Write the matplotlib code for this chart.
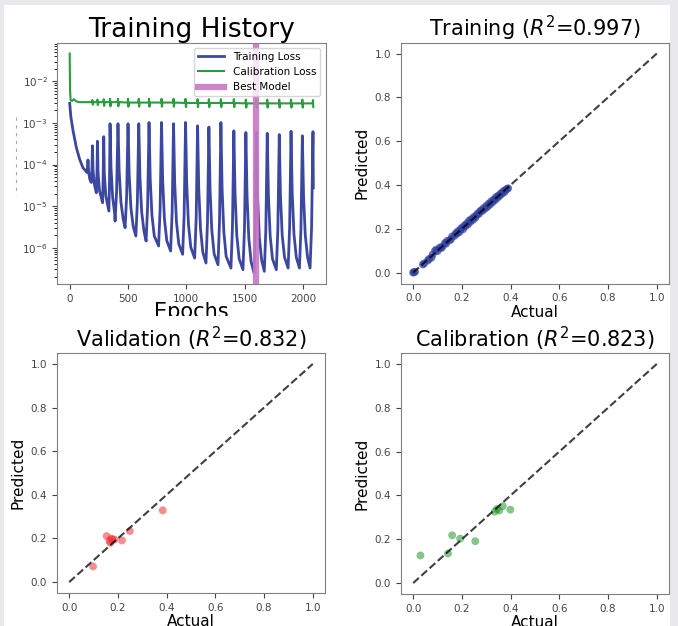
import numpy as np
import matplotlib.pyplot as plt
from matplotlib.patches import Rectangle
from matplotlib.lines import Line2D
from matplotlib.transforms import Bbox, TransformedBbox

# loss history (log10 of the loss); each row is one warm-restart cycle
train_epochs = [0, 10, 29, 57, 86, 114, 143, 147,
                153, 157, 162, 172, 185,
                191, 195, 200, 210, 228,
                234, 238, 243, 255, 282,
                287, 292, 297, 310, 336,
                341, 346, 354, 368, 385, 389,
                402, 414, 424, 439, 459, 475,
                488, 500, 510, 525, 545, 567,
                580, 592, 602, 617, 637, 655,
                668, 680, 690, 705, 725, 762,
                775, 787, 797, 812, 832, 865,
                878, 890, 900, 915, 935, 968,
                981, 993, 1003, 1018, 1038, 1071,
                1084, 1096, 1106, 1121, 1141, 1168,
                1181, 1193, 1203, 1218, 1238, 1271,
                1284, 1296, 1306, 1321, 1341, 1382,
                1395, 1407, 1417, 1432, 1452, 1485,
                1498, 1510, 1520, 1535, 1555, 1580,
                1590, 1600, 1610, 1625, 1645, 1668,
                1681, 1693, 1703, 1718, 1738, 1771,
                1784, 1796, 1806, 1821, 1841, 1872,
                1885, 1897, 1907, 1922, 1942, 1969,
                1982, 1994, 2004, 2019, 2039, 2060,
                2073, 2085, 2088]
train_log_loss = [-2.53, -2.85, -3.19, -3.59, -3.88, -4.08, -4.17, -4.19,
                  -4.07, -3.89, -4.16, -4.35, -4.43,
                  -4.08, -3.55, -4.12, -4.45, -4.68,
                  -4.18, -3.44, -4.18, -4.62, -4.92,
                  -4.28, -3.33, -4.23, -4.76, -5.12,
                  -4.49, -3.02, -4.07, -4.78, -5.17, -5.36,
                  -4.66, -3.02, -4.15, -4.90, -5.32, -5.52,
                  -4.77, -3.02, -4.24, -5.05, -5.50, -5.72,
                  -4.91, -3.02, -4.29, -5.14, -5.61, -5.84,
                  -4.99, -2.99, -4.33, -5.22, -5.72, -5.96,
                  -5.07, -2.99, -4.38, -5.31, -5.83, -6.08,
                  -5.16, -3.02, -4.43, -5.38, -5.91, -6.16,
                  -5.21, -2.99, -4.46, -5.44, -5.99, -6.25,
                  -5.30, -3.07, -4.56, -5.55, -6.11, -6.37,
                  -5.39, -3.10, -4.59, -5.58, -6.15, -6.41,
                  -5.38, -2.99, -4.57, -5.62, -6.21, -6.49,
                  -5.50, -3.19, -4.69, -5.70, -6.26, -6.53,
                  -5.54, -3.23, -4.75, -5.77, -6.34, -6.61,
                  -5.60, -3.23, -4.73, -5.74, -6.30, -6.57,
                  -5.57, -3.25, -4.73, -5.71, -6.27, -6.53,
                  -5.55, -3.28, -4.72, -5.69, -6.23, -6.49,
                  -5.50, -3.20, -4.68, -5.67, -6.23, -6.49,
                  -5.54, -3.31, -4.74, -5.70, -6.24, -6.49,
                  -5.51, -3.21, -4.56]

cal_epochs = [0, 3, 5, 8, 20, 35, 55, 80, 150,
              192, 195, 198, 203,
              235, 238, 241, 246,
              289, 292, 295, 300,
              343, 346, 349, 354,
              411, 414, 417, 422,
              497, 500, 503, 508,
              589, 592, 595, 600,
              677, 680, 683, 688,
              784, 787, 790, 795,
              887, 890, 893, 898,
              990, 993, 996, 1001,
              1093, 1096, 1099, 1104,
              1190, 1193, 1196, 1201,
              1293, 1296, 1299, 1304,
              1404, 1407, 1410, 1415,
              1507, 1510, 1513, 1518,
              1597, 1600, 1603, 1608,
              1690, 1693, 1696, 1701,
              1793, 1796, 1799, 1804,
              1894, 1897, 1900, 1905,
              1991, 1994, 1997, 2002,
              2082, 2085, 2088]
cal_log_loss = [-1.33, -2.20, -2.30, -2.46, -2.47, -2.43, -2.48, -2.50, -2.50,
                -2.50, -2.45, -2.56, -2.50,
                -2.50, -2.44, -2.57, -2.50,
                -2.50, -2.43, -2.59, -2.50,
                -2.50, -2.42, -2.60, -2.50,
                -2.50, -2.42, -2.60, -2.50,
                -2.51, -2.42, -2.61, -2.51,
                -2.51, -2.42, -2.61, -2.51,
                -2.51, -2.42, -2.61, -2.51,
                -2.51, -2.42, -2.61, -2.51,
                -2.51, -2.42, -2.61, -2.51,
                -2.52, -2.42, -2.62, -2.52,
                -2.52, -2.43, -2.62, -2.52,
                -2.52, -2.43, -2.62, -2.52,
                -2.52, -2.43, -2.62, -2.52,
                -2.52, -2.43, -2.62, -2.52,
                -2.53, -2.44, -2.63, -2.53,
                -2.53, -2.44, -2.63, -2.53,
                -2.53, -2.44, -2.63, -2.53,
                -2.53, -2.44, -2.63, -2.53,
                -2.53, -2.44, -2.63, -2.53,
                -2.53, -2.44, -2.63, -2.53,
                -2.53, -2.45, -2.62]
best_epoch = 1597

# predicted vs actual
train_actual = [0.0, 0.003, 0.008, 0.04, 0.045, 0.06, 0.065, 0.075, 0.08, 0.09,
                0.095, 0.10, 0.11, 0.115, 0.12, 0.13, 0.135, 0.14, 0.15, 0.155,
                0.16, 0.17, 0.175, 0.18, 0.185, 0.19, 0.195, 0.20, 0.205, 0.21,
                0.215, 0.22, 0.225, 0.23, 0.235, 0.24, 0.245, 0.25, 0.255, 0.26,
                0.265, 0.27, 0.275, 0.28, 0.285, 0.29, 0.295, 0.30, 0.305, 0.31,
                0.315, 0.32, 0.325, 0.33, 0.335, 0.34, 0.345, 0.35, 0.355, 0.36,
                0.365, 0.37, 0.375, 0.38, 0.385, 0.39]
train_pred = [0.0, 0.002, 0.004, 0.037, 0.042, 0.055, 0.062, 0.068, 0.083, 0.10,
              0.105, 0.098, 0.115, 0.112, 0.118, 0.135, 0.132, 0.145, 0.148, 0.152,
              0.165, 0.168, 0.18, 0.178, 0.19, 0.185, 0.198, 0.205, 0.198, 0.215,
              0.212, 0.225, 0.22, 0.238, 0.232, 0.245, 0.24, 0.255, 0.25, 0.262,
              0.27, 0.268, 0.28, 0.285, 0.282, 0.295, 0.292, 0.305, 0.30, 0.315,
              0.31, 0.325, 0.32, 0.333, 0.33, 0.345, 0.34, 0.352, 0.35, 0.362,
              0.36, 0.372, 0.368, 0.378, 0.382, 0.385]

val_actual = [0.098, 0.154, 0.165, 0.169, 0.173, 0.178, 0.186, 0.217, 0.249, 0.384]
val_pred = [0.072, 0.211, 0.19, 0.18, 0.2, 0.195, 0.195, 0.191, 0.234, 0.329]

cal_actual = [0.030, 0.143, 0.160, 0.193, 0.255, 0.335, 0.344, 0.353, 0.368, 0.399]
cal_pred = [0.126, 0.135, 0.218, 0.203, 0.191, 0.326, 0.338, 0.331, 0.351, 0.335]

r2_train, r2_val, r2_cal = 0.997, 0.832, 0.823

tick_color = '#444444'
spine_color = '#808080'

fig = plt.figure(figsize=(6.78, 6.26), dpi=100)
fig.patch.set_facecolor('#e9e9ed')
fig.patches.append(Rectangle((4 / 678, 0), 666 / 678, 621 / 626, transform=fig.transFigure,
                             facecolor='white', edgecolor='none', zorder=-1))


def style_axes(ax):
    for s in ax.spines.values():
        s.set_color(spine_color)
    ax.tick_params(colors=tick_color, labelsize=7.5, labelcolor=tick_color)


# training history
ax1 = fig.add_axes([0.0848, 0.5463, 0.3953, 0.3858])
ax1.plot(train_epochs, np.power(10.0, train_log_loss), color='#3c48a0', lw=2.0,
         label='Training Loss')
ax1.plot(cal_epochs, np.power(10.0, cal_log_loss), color='#2a9c3e', lw=1.5,
         label='Calibration Loss')
ax1.axvline(best_epoch, color='#c878c4', lw=4.5, alpha=0.9, label='Best Model')
ax1.set_yscale('log')
ax1.set_title('Training History', fontsize=19, pad=4)
# the x label runs under the panel below, only its upper part shows
xl = ax1.set_xlabel('Epochs', fontsize=15, labelpad=-1)
xl.set_clip_box(TransformedBbox(Bbox([[0, 0.496], [1, 1]]), fig.transFigure))
xl.set_clip_on(True)
ax1.legend(loc='upper right', fontsize=7.5, framealpha=0.8, handlelength=2.5)
style_axes(ax1)

# stray dashed mark on the far left
fig.lines.append(Line2D([16 / 678, 16 / 678], [1 - 117 / 626, 1 - 195 / 626],
                        transform=fig.transFigure, color='#aaaaaa', lw=0.8,
                        linestyle=(0, (3, 4))))


def scatter_panel(rect, actual, pred, color, alpha, title):
    ax = fig.add_axes(rect)
    ax.scatter(actual, pred, color=color, alpha=alpha, s=32, edgecolors='none')
    ax.plot([0, 1], [0, 1], 'k--', lw=1.5, alpha=0.75)
    ax.set_title(title, fontsize=15, pad=4)
    ax.set_xlabel('Actual', fontsize=11, labelpad=1)
    ax.set_ylabel('Predicted', fontsize=11)
    style_axes(ax)
    return ax


scatter_panel([0.5914, 0.547, 0.3953, 0.385], train_actual, train_pred, '#3040a0', 0.7,
              'Training ($R^2$=%.3f)' % r2_train)
scatter_panel([0.084, 0.0527, 0.3953, 0.3834], val_actual, val_pred, '#ee3333', 0.55,
              'Validation ($R^2$=%.3f)' % r2_val)
scatter_panel([0.5914, 0.0511, 0.3953, 0.385], cal_actual, cal_pred, '#22962a', 0.55,
              'Calibration ($R^2$=%.3f)' % r2_cal)

plt.savefig('out.png', dpi=100, facecolor=fig.get_facecolor())
